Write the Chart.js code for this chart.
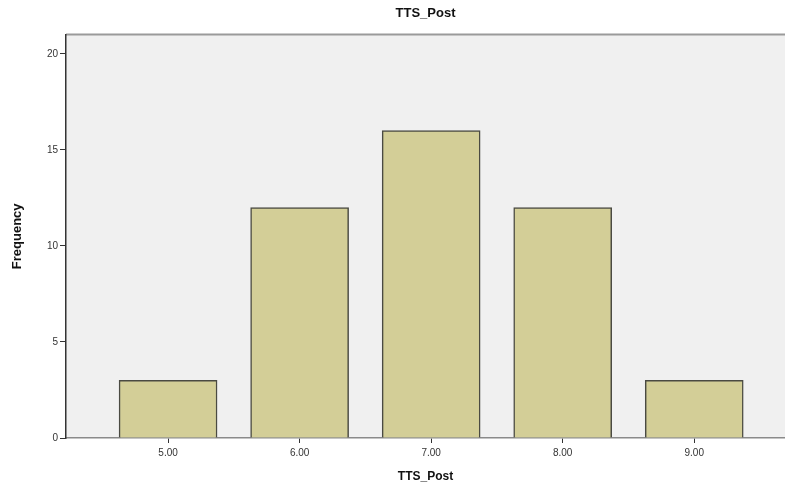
<!DOCTYPE html>
<html lang="en">
<head>
  <meta charset="UTF-8">
  <title>TTS_Post</title>
  <script src="https://cdn.jsdelivr.net/npm/chart.js"></script>
  <style>
    body { margin: 0; background: #fff; }
    #wrap { width: 785px; height: 484px; }
  </style>
</head>
<body>
  <div id="wrap"><canvas id="histChart"></canvas></div>

  <script>
    // data
    const scores = [5, 6, 7, 8, 9];
    const frequency = [3, 12, 16, 12, 3];
    const yTicks = [0, 5, 10, 15, 20];

    // grey plot background + top border like SPSS
    const plotBg = {
      id: 'plotBg',
      beforeDraw(chart) {
        const { ctx, chartArea: a } = chart;
        ctx.save();
        ctx.fillStyle = '#f0f0f0';
        ctx.fillRect(a.left, a.top, a.right - a.left, a.bottom - a.top);
        ctx.strokeStyle = '#9a9a9a';
        ctx.lineWidth = 2;
        ctx.beginPath();
        ctx.moveTo(a.left, a.top);
        ctx.lineTo(a.right, a.top);
        ctx.stroke();
        ctx.restore();
      }
    };

    const ctx = document.getElementById('histChart').getContext('2d');
    new Chart(ctx, {
      type: 'bar',
      data: {
        datasets: [{
          data: scores.map((s, i) => ({ x: s, y: frequency[i] })),
          backgroundColor: '#d3ce97',
          borderColor: '#4a4a42',
          borderWidth: 1.5,
          barThickness: 98
        }]
      },
      options: {
        responsive: true,
        maintainAspectRatio: false,
        animation: false,
        layout: { padding: { left: 0, right: 0, top: 0, bottom: 0 } },
        plugins: {
          legend: { display: false },
          tooltip: { enabled: false },
          title: {
            display: true,
            fullSize: false,
            text: 'TTS_Post',
            color: '#111',
            font: { family: 'Arial', size: 13, weight: 'bold' },
            padding: { top: 6, bottom: 13 }
          }
        },
        scales: {
          x: {
            type: 'linear',
            offset: false,
            min: 4.224,
            max: 9.69,
            afterBuildTicks: s => { s.ticks = scores.map(v => ({ value: v })); },
            afterFit: s => { s.height = 46; },
            grid: { offset: false, drawOnChartArea: false, drawTicks: true, tickLength: 5, color: '#333' },
            border: { color: '#8a8a8a', width: 1.5 },
            ticks: {
              color: '#333',
              font: { family: 'Arial', size: 10 },
              padding: 4,
              callback: v => v.toFixed(2)
            },
            title: {
              display: true,
              text: 'TTS_Post',
              color: '#111',
              font: { family: 'Arial', size: 12, weight: 'bold' },
              padding: { top: 6, bottom: 0 }
            }
          },
          y: {
            min: 0,
            max: 21,
            afterBuildTicks: s => { s.ticks = yTicks.map(v => ({ value: v })); },
            afterFit: s => { s.width = 66; },
            grid: { drawOnChartArea: false, drawTicks: true, tickLength: 6, color: '#333' },
            border: { color: '#333', width: 1.5 },
            ticks: {
              color: '#333',
              font: { family: 'Arial', size: 10 },
              padding: 2
            },
            title: {
              display: true,
              text: 'Frequency',
              color: '#111',
              font: { family: 'Arial', size: 13, weight: 'bold' },
              padding: { top: 10, bottom: 0 }
            }
          }
        }
      },
      plugins: [plotBg]
    });
  </script>
</body>
</html>
